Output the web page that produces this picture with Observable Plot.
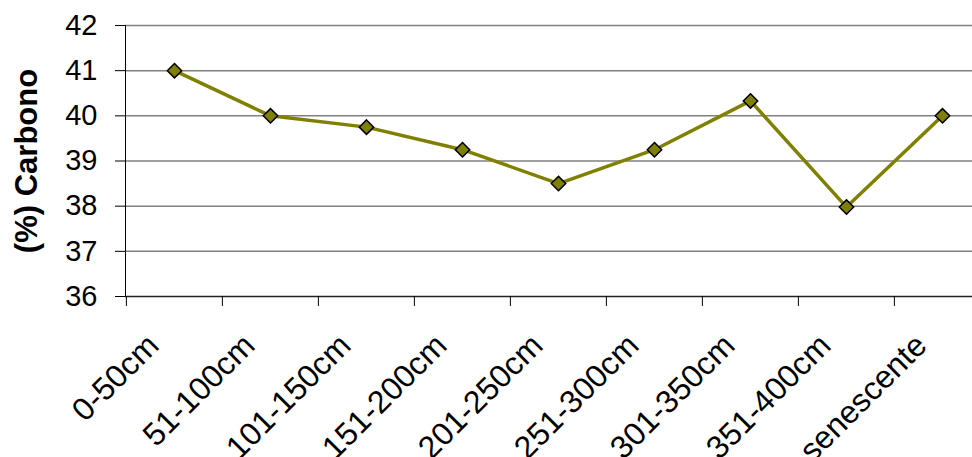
<!DOCTYPE html>
<html>
<head>
<meta charset="utf-8">
<script src="https://cdn.jsdelivr.net/npm/d3@7"></script>
<script src="https://cdn.jsdelivr.net/npm/@observablehq/plot@0.6"></script>
<style>
  html, body { margin: 0; padding: 0; background: #ffffff; overflow: hidden; }
  #chart svg { display: block; }
</style>
</head>
<body>
<div id="chart"></div>
<script>
const categories = ["0-50cm","51-100cm","101-150cm","151-200cm","201-250cm","251-300cm","301-350cm","351-400cm","senescente"];
const carbono = [41.0, 40.0, 39.75, 39.25, 38.5, 39.25, 40.33, 37.98, 40.0];
const yTicks = [36, 37, 38, 39, 40, 41, 42];
const yTitle = "(%) Carbono";

const data = categories.map((c, i) => ({cat: c, value: carbono[i]}));
const halfStep = (991 - 125) / categories.length / 2;

const chart = Plot.plot({
  width: 972,
  height: 457,
  marginLeft: 125,
  marginRight: 0,
  marginTop: 25,
  marginBottom: 161,
  style: {fontFamily: "'Liberation Sans', Arial, sans-serif", background: "#ffffff", color: "#000"},
  x: {type: "point", domain: categories, range: [125, 991], padding: 0.5, axis: null},
  y: {domain: [36, 42], axis: null},
  marks: [
    Plot.ruleY(yTicks.filter(t => t > 36), {y: d => d, stroke: "#808080", strokeWidth: 1.5, strokeOpacity: 1}),
    Plot.axisY({ticks: yTicks, tickFormat: d3.format("d"), tickSize: 10, tickPadding: 18, fontSize: 29, label: null, stroke: "#000", strokeOpacity: 1, color: "#000"}),
    Plot.frame({anchor: "left", stroke: "#000", strokeWidth: 1}),
    Plot.ruleY([36], {y: d => d, stroke: "#222", strokeWidth: 1.5}),
    Plot.axisX({ticks: categories, tickSize: 10, tickFormat: () => "", dx: -halfStep, label: null, stroke: "#000", strokeOpacity: 1}),
    Plot.text(categories, {x: d => d, frameAnchor: "bottom", text: d => d, rotate: -45, textAnchor: "end", lineAnchor: "bottom", dx: -14, dy: 51, fontSize: 32, fill: "#000"}),
    Plot.text([yTitle], {frameAnchor: "left", text: d => d, rotate: -90, textAnchor: "middle", lineAnchor: "middle", dx: -98, fontSize: 31, fontWeight: "bold", fill: "#000"}),
    Plot.line(data, {x: "cat", y: "value", stroke: "#808000", strokeWidth: 3.5}),
    Plot.dot(data, {x: "cat", y: "value", symbol: "diamond2", r: 6.5, fill: "#808000", stroke: "#000", strokeWidth: 1.5})
  ]
});
document.getElementById("chart").appendChild(chart);
</script>
</body>
</html>
